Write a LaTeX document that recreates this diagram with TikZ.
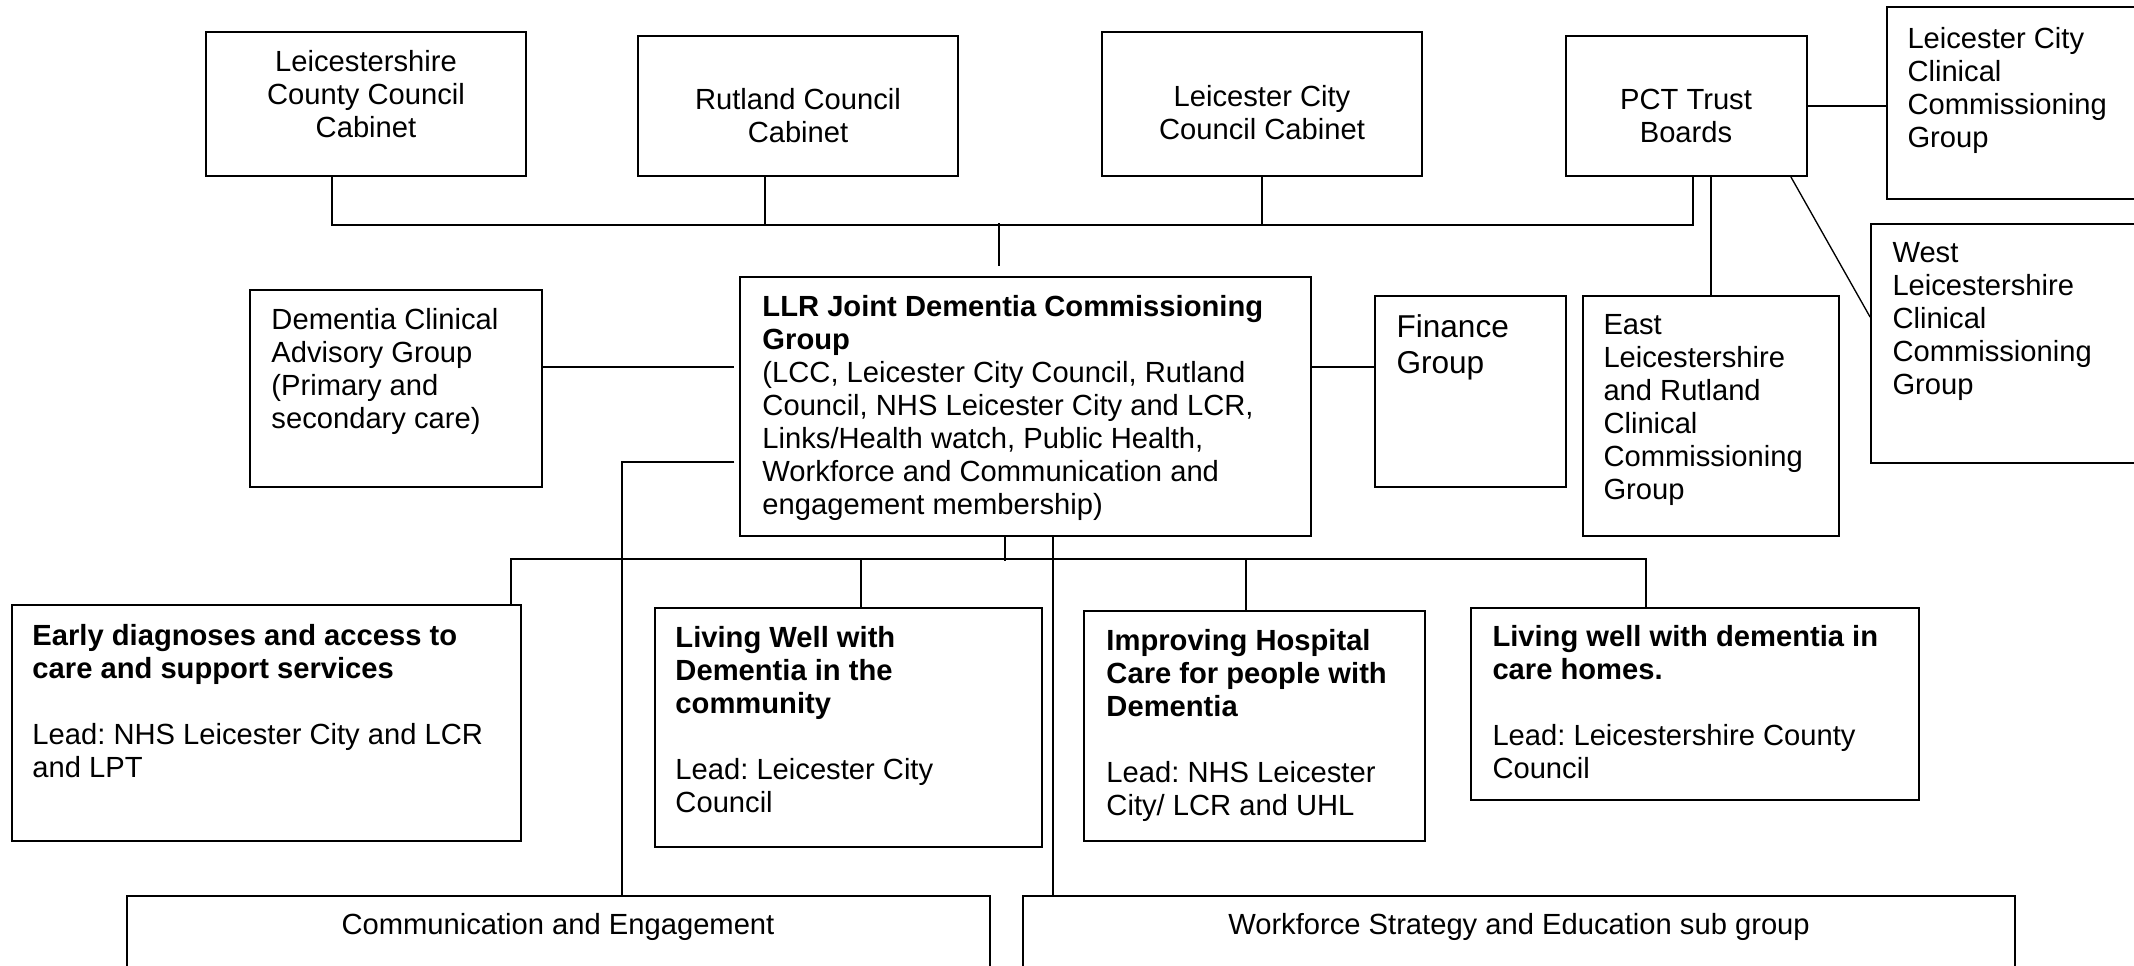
\documentclass[tikz,border=0pt]{standalone}
\usepackage{fontspec}
\setmainfont{Liberation Sans}
\usetikzlibrary{fit,calc}
\frenchspacing
\begin{document}
\begin{tikzpicture}[x=0.4115pt,y=-0.4115pt,
  boxst/.style={draw, line width=0.7pt, inner sep=0pt},
  lnk/.style={line width=0.55pt},
  txt/.style={inner sep=0pt, anchor=north west, align=left, font=\fontsize{12}{13.6}\selectfont},
  ctxt/.style={txt, anchor=north, align=center}]
\useasboundingbox (0,0) rectangle (2134,966);
% top row
\node[boxst, fit={(206,32) (526,176)}] (lcc) {};
\node[ctxt] (lcc-t) at (366,50) {Leicestershire\\County Council\\Cabinet};
\node[boxst, fit={(638,36) (958,176)}] (rut) {};
\node[ctxt] (rut-t) at (798,88) {Rutland Council\\Cabinet};
\node[boxst, fit={(1102,32) (1422,176)}] (lccc) {};
\node[ctxt] (lccc-t) at (1262,85) {Leicester City\\Council Cabinet};
\node[boxst, fit={(1566,36) (1807,176)}] (pct) {};
\node[ctxt] (pct-t) at (1686,89) {PCT Trust\\Boards};
\node[boxst, fit={(1887,7) (2160,199)}] (lcccg) {};
\node[txt] (lcccg-t) at (1907,27) {Leicester City\\Clinical\\Commissioning\\Group};
\node[boxst, fit={(1871,224) (2160,463)}] (west) {};
\node[txt] (west-t) at (1892,242) {West\\Leicestershire\\Clinical\\Commissioning\\Group};
% middle row
\node[boxst, fit={(250,290) (542,487)}] (dcag) {};
\node[txt] (dcag-t) at (271,308) {Dementia Clinical\\Advisory Group\\(Primary and\\secondary care)};
\node[boxst, fit={(740,277) (1311,536)}] (llr) {};
\node[txt] (llr-t) at (762,295) {\textbf{LLR Joint Dementia Commissioning}\\\textbf{Group}\\(LCC, Leicester City Council, Rutland\\Council, NHS Leicester City and LCR,\\Links/Health watch, Public Health,\\Workforce and Communication and\\engagement membership)};
\node[boxst, fit={(1375,296) (1566,487)}] (fin) {};
\node[txt, font=\fontsize{13}{15}\selectfont] (fin-t) at (1396,314) {Finance\\Group};
\node[boxst, fit={(1583,296) (1839,536)}] (east) {};
\node[txt] (east-t) at (1603,314) {East\\Leicestershire\\and Rutland\\Clinical\\Commissioning\\Group};
% workstreams
\node[boxst, fit={(12,605) (521,841)}] (early) {};
\node[txt] (early-t) at (32,624) {\textbf{Early diagnoses and access to}\\\textbf{care and support services}\\[13.6pt]Lead: NHS Leicester City and LCR\\and LPT};
\node[boxst, fit={(655,608) (1042,847)}] (lwc) {};
\node[txt] (lwc-t) at (675,626) {\textbf{Living Well with}\\\textbf{Dementia in the}\\\textbf{community}\\[13.6pt]Lead: Leicester City\\Council};
\node[boxst, fit={(1084,611) (1425,841)}] (hosp) {};
\node[txt] (hosp-t) at (1106,629) {\textbf{Improving Hospital}\\\textbf{Care for people with}\\\textbf{Dementia}\\[13.6pt]Lead: NHS Leicester\\City/ LCR and UHL};
\node[boxst, fit={(1471,608) (1919,800)}] (homes) {};
\node[txt] (homes-t) at (1492,625) {\textbf{Living well with dementia in}\\\textbf{care homes.}\\[13.6pt]Lead: Leicestershire County\\Council};
% bottom row
\node[boxst, fit={(127,896) (990,990)}] (ce) {};
\node[ctxt] (ce-t) at (558,913) {Communication and Engagement};
\node[boxst, fit={(1023,896) (2015,990)}] (wf) {};
\node[ctxt] (wf-t) at (1519,913) {Workforce Strategy and Education sub group};
% connectors: top bus
\draw[lnk] ($(lcc.south west)+(127,0)$) |- ($(pct.south west)+(128,48)$) -- ($(pct.south west)+(128,0)$);
\draw[lnk] ($(rut.south west)+(128,0)$) -- ++(0,48);
\draw[lnk] (lccc.south) -- ++(0,48);
\draw[lnk] ($(llr.north west)+(260,-53)$) -- ($(llr.north west)+(260,-10)$);
% PCT links
\draw[lnk] (pct.east) -- (pct.east -| lcccg.west);
\draw[lnk] (east.north) -- (east.north |- pct.south);
\draw[lnk] ($(pct.south east)+(-17,0)$) -- ($(west.north west)+(0,94)$);
% side links
\coordinate (dl) at ($(dcag.north east)+(0,78)$);
\draw[lnk, shorten >=2pt] (dl) -- (dl -| llr.west);
\coordinate (fl) at ($(fin.north west)+(0,72)$);
\draw[lnk] (fl) -- (fl -| llr.east);
\draw[lnk, shorten <=2pt] ($(llr.north west)+(0,186)$) -| ($(ce.north west)+(496,0)$);
\draw[lnk] ($(llr.south west)+(314,0)$) -- ($(wf.north west)+(31,0)$);
% workstream bus
\coordinate (cb) at ($(llr.south west)+(266,24)$);
\draw[lnk] ($(llr.south west)+(266,0)$) -- (cb);
\draw[lnk] ($(early.north east)+(-11,0)$) |- ($(homes.north west)+(176,-48)$) -- ($(homes.north west)+(176,0)$);
\draw[lnk] ($(lwc.north west)+(207,0)$) -- ++(0,-48);
\draw[lnk] ($(hosp.north west)+(163,0)$) -- ++(0,-51);
\end{tikzpicture}
\end{document}
